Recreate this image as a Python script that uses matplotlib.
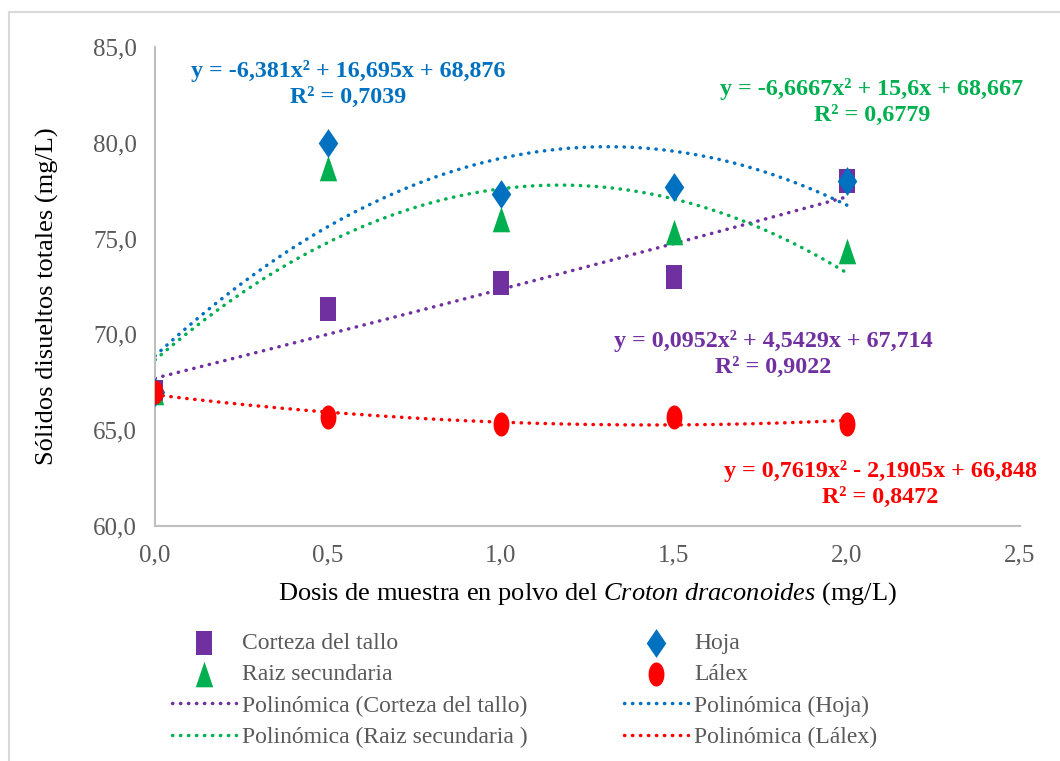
import numpy as np
import matplotlib
matplotlib.use("Agg")
import matplotlib.pyplot as plt
from matplotlib.lines import Line2D

plt.rcParams['font.family'] = ['Liberation Serif', 'DejaVu Serif']
plt.rcParams['mathtext.fontset'] = 'custom'
plt.rcParams['mathtext.rm'] = 'Liberation Serif'
plt.rcParams['mathtext.it'] = 'Liberation Serif:italic'

# data
dosis = [0.0, 0.5, 1.0, 1.5, 2.0]
corteza = [67.0, 71.33, 72.67, 73.0, 78.0]
hoja = [67.0, 80.0, 77.33, 77.67, 78.0]
raiz = [67.0, 78.67, 76.0, 75.33, 74.33]
lalex = [67.0, 65.67, 65.33, 65.67, 65.33]

# trendline coefficients (a, b, c)
coef_corteza = [0.0952, 4.5429, 67.714]
coef_hoja = [-6.381, 16.695, 68.876]
coef_raiz = [-6.6667, 15.6, 68.667]
coef_lalex = [0.7619, -2.1905, 66.848]

eq_corteza = "y = 0,0952x² + 4,5429x + 67,714\nR² = 0,9022"
eq_hoja = "y = -6,381x² + 16,695x + 68,876\nR² = 0,7039"
eq_raiz = "y = -6,6667x² + 15,6x + 68,667\nR² = 0,6779"
eq_lalex = "y = 0,7619x² - 2,1905x + 66,848\nR² = 0,8472"

xticks = [0.0, 0.5, 1.0, 1.5, 2.0, 2.5]
xticklabels = ['0,0', '0,5', '1,0', '1,5', '2,0', '2,5']
yticks = [60, 65, 70, 75, 80, 85]
yticklabels = ['60,0', '65,0', '70,0', '75,0', '80,0', '85,0']

PURPLE = '#7030A0'
BLUE = '#0070C0'
GREEN = '#00B050'
RED = '#FF0000'
GRAY = '#595959'

# tall markers (the original picture is a bit stretched vertically)
r = 0.34
m_square = [(-r, -0.5), (r, -0.5), (r, 0.5), (-r, 0.5), (-r, -0.5)]
m_diamond = [(0, -0.5), (r, 0), (0, 0.5), (-r, 0), (0, -0.5)]
m_tri = [(-r, -0.5), (r, -0.5), (0, 0.5), (-r, -0.5)]
t = np.linspace(0, 2 * np.pi, 40)
m_ellipse = list(zip(0.33 * np.cos(t), 0.5 * np.sin(t)))

W, H = 1060, 761
fig = plt.figure(figsize=(W / 100, H / 100), dpi=100)
ax = fig.add_axes([155 / W, 1 - 526 / H, (1020 - 155) / W, (526 - 47) / H])

# outer frame (only left and top visible)
fig.add_artist(Line2D([9 / W, 9 / W], [0, 1 - 12 / H], color='#D9D9D9', lw=1.5, transform=fig.transFigure))
fig.add_artist(Line2D([9 / W, 1], [1 - 12 / H, 1 - 12 / H], color='#D9D9D9', lw=1.5, transform=fig.transFigure))

xs = np.linspace(0, 2.0, 200)
ls = (0, (0.1, 2.2))
lw = 2.5

for coef, col, name in [(coef_corteza, PURPLE, 'Polinómica (Corteza del tallo)'),
                        (coef_hoja, BLUE, 'Polinómica (Hoja)'),
                        (coef_raiz, GREEN, 'Polinómica (Raiz secundaria )'),
                        (coef_lalex, RED, 'Polinómica (Lálex)')]:
    ax.plot(xs, np.polyval(coef, xs), color=col, lw=lw, linestyle=ls,
            dash_capstyle='round', zorder=2, label=name)

ax.scatter(dosis, corteza, marker=m_square, s=290, color=PURPLE, lw=0, zorder=3, label='Corteza del tallo')
ax.scatter(dosis, raiz, marker=m_tri, s=340, color=GREEN, lw=0, zorder=3, label='Raiz secundaria')
ax.scatter(dosis, hoja, marker=m_diamond, s=430, color=BLUE, lw=0, zorder=4, label='Hoja')
ax.scatter(dosis, lalex, marker=m_ellipse, s=300, color=RED, lw=0, zorder=5, label='Lálex')

ax.set_xlim(0, 2.5)
ax.set_ylim(60, 85)
ax.set_xticks(xticks)
ax.set_xticklabels(xticklabels)
ax.set_yticks(yticks)
ax.set_yticklabels(yticklabels)
ax.tick_params(length=0, labelsize=18, labelcolor=GRAY, pad=13)
ax.tick_params(axis='x', pad=13)
for s in ['top', 'right']:
    ax.spines[s].set_visible(False)
for s in ['left', 'bottom']:
    ax.spines[s].set_color('#BFBFBF')
    ax.spines[s].set_linewidth(1.5)

ax.set_ylabel('Sólidos disueltos totales (mg/L)', fontsize=19)
ax.yaxis.set_label_coords(-0.111, 0.48)
ax.set_xlabel(r'Dosis de muestra en polvo del $\mathit{Croton\ draconoides}$ (mg/L)', fontsize=19, labelpad=10)

# equations
for txt, col, px, py in [(eq_hoja, BLUE, 348, 84),
                         (eq_raiz, GREEN, 872, 102),
                         (eq_corteza, PURPLE, 773, 354),
                         (eq_lalex, RED, 880, 484)]:
    fig.text(px / W, 1 - py / H, txt, color=col, fontsize=17.3, fontweight='bold',
             ha='center', va='center', linespacing=1.25)

# legend
hd, lb = ax.get_legend_handles_labels()
order = ['Corteza del tallo', 'Raiz secundaria', 'Polinómica (Corteza del tallo)', 'Polinómica (Raiz secundaria )',
         'Hoja', 'Lálex', 'Polinómica (Hoja)', 'Polinómica (Lálex)']
hmap = dict(zip(lb, hd))
leg = fig.legend([hmap[k] for k in order], order, ncol=2, frameon=False,
                 loc='upper left', bbox_to_anchor=(151 / W, 1 - 611 / H),
                 fontsize=17, labelcolor=GRAY, handlelength=2.7, handletextpad=0.25,
                 columnspacing=4.1, labelspacing=0.42, scatterpoints=1)

fig.savefig('out.png', dpi=100)
